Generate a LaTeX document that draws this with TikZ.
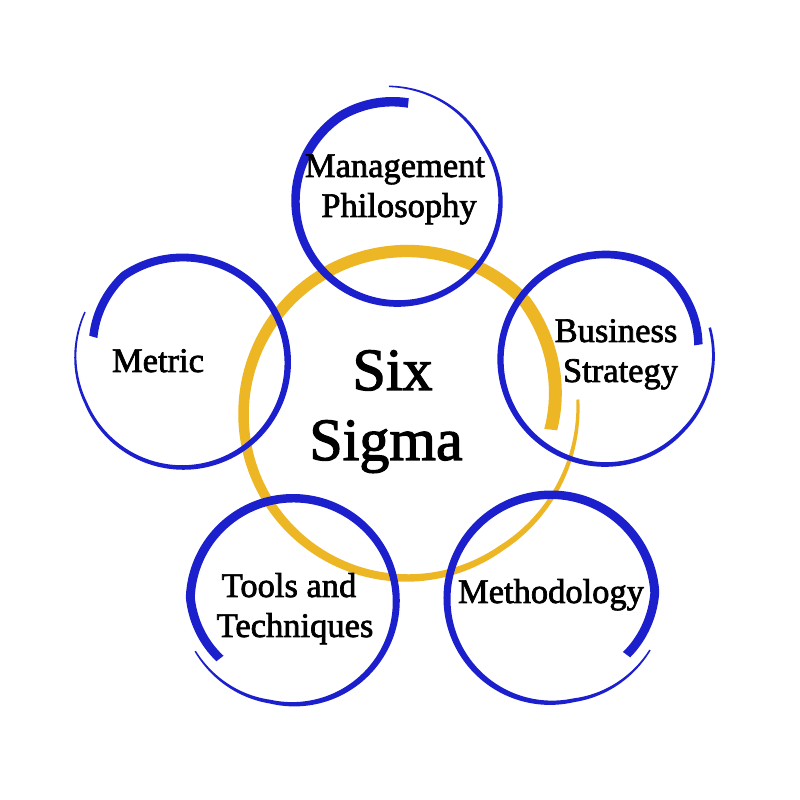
\documentclass[tikz,border=0pt]{standalone}
\usepackage{fontspec}
\setmainfont{Liberation Serif}
\newfontfamily\lblfont{Liberation Serif}[FakeBold=2]
\definecolor{ringblue}{RGB}{28,32,204}
\definecolor{ringgold}{RGB}{236,182,36}
\pgfkeys{/brush/.cd,
  cx/.store in=\bcx, cy/.store in=\bcy, R/.store in=\bR,
  t0/.store in=\bta, t1/.store in=\btb,
  ds/.store in=\bds, ts/.store in=\bts,
  de/.store in=\bde, te/.store in=\bte,
  wa/.store in=\bwa, wb/.store in=\bwb, p/.store in=\bp}
\pgfmathdeclarefunction{brr}{1}{\begingroup\pgfmathparse{(\bR)+(\bds)*max(0,1-abs((#1)-(\bta))/(\bts))+(\bde)*max(0,1-abs((\btb)-(#1))/(\bte))}\pgfmathsmuggle\pgfmathresult\endgroup}
\pgfmathdeclarefunction{brw}{1}{\begingroup\pgfmathparse{(\bwa)+((\bwb)-(\bwa))*(max(0.0001,((#1)-(\bta))/((\btb)-(\bta))))^(\bp)}\pgfmathsmuggle\pgfmathresult\endgroup}
\newcommand\brushring[2]{%
  \pgfkeys{/brush/.cd,#1}%
  \fill[#2] plot[domain=\bta:\btb,samples=300] ({\bcx+(brr(\x)+0.5*brw(\x))*cos(\x)},{\bcy+(brr(\x)+0.5*brw(\x))*sin(\x)})
    -- plot[domain=\btb:\bta,samples=300] ({\bcx+(brr(\x)-0.5*brw(\x))*cos(\x)},{\bcy+(brr(\x)-0.5*brw(\x))*sin(\x)}) -- cycle;%
}
\tikzset{
  lbl/.style={anchor=base, inner sep=0pt, font=\lblfont\fontsize{34.5}{40}\selectfont},
  biglbl/.style={anchor=base, inner sep=0pt, font=\lblfont\fontsize{60}{70}\selectfont}
}
\begin{document}
\begin{tikzpicture}[x=1pt,y=1pt]
\useasboundingbox (0,0) rectangle (800,800);
\fill[white] (0,0) rectangle (800,800);
% central gold ring
\brushring{cx=407,cy=385.5,R=163.5,t0=-6,t1=365,ds=-19,ts=50,de=8,te=60,wa=13,wb=3,p=2}{ringgold}
% blue rings
\brushring{cx=398,cy=599,R=102.5,t0=84,t1=454.5,ds=-4,ts=40,de=12.5,te=60,wa=9.5,wb=1.5,p=1.5}{ringblue}
\brushring{cx=605.5,cy=440.5,R=105,t0=9,t1=377,ds=-11,ts=45,de=4,te=60,wa=8.5,wb=2.5,p=1.3}{ringblue}
\brushring{cx=182.75,cy=437.5,R=105,t0=164,t1=-207.3,ds=-12,ts=40,de=5,te=50,wa=8.5,wb=1.5,p=1.5}{ringblue}
\brushring{cx=293.25,cy=198.75,R=103,t0=218,t1=-153,ds=-10,ts=40,de=7,te=50,wa=9,wb=1.5,p=2.5}{ringblue}
\brushring{cx=551,cy=201.25,R=104,t0=-36.5,t1=332.6,ds=-10,ts=40,de=7.5,te=50,wa=9,wb=1.5,p=2.5}{ringblue}
% labels
\node[lbl] (mg1) at (395,623) {Management};
\node[lbl] (mg2) at (399,583) {Philosophy};
\node[lbl] (bs1) at (616,458) {Business};
\node[lbl] (bs2) at (620.5,418) {Strategy};
\node[lbl] (me) at (158,428) {Metric};
\node[biglbl] (six) at (392.5,410) {Six};
\node[biglbl] (sigma) at (386,340) {Sigma};
\node[lbl] (tt1) at (289,203) {Tools and};
\node[lbl] (tt2) at (295,163) {Techniques};
\node[lbl] (mt) at (551,197) {Methodology};
\end{tikzpicture}
\end{document}
